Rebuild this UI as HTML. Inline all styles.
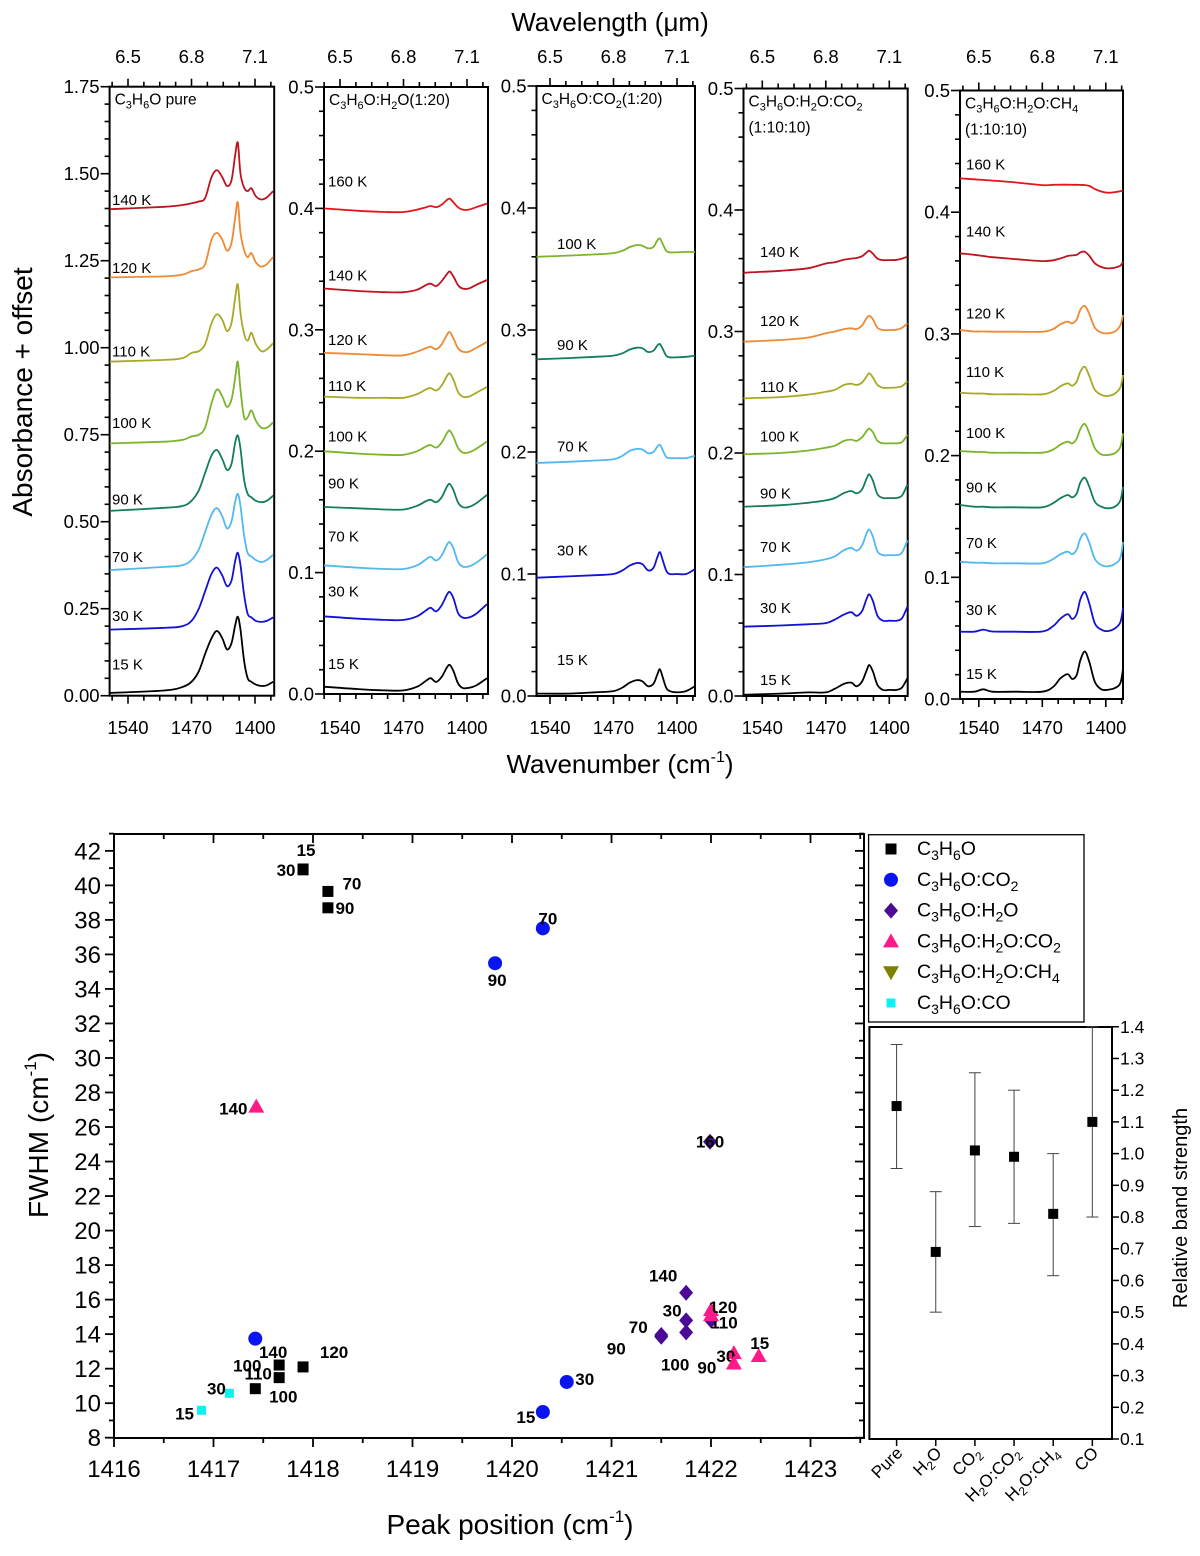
<!DOCTYPE html>
<html><head><meta charset="utf-8"><style>
html,body{margin:0;padding:0;background:#fff}
svg{display:block;font-family:"Liberation Sans",Arial,sans-serif}
</style></head><body>
<svg id="fig" width="1200" height="1556" viewBox="0 0 1200 1556" xmlns="http://www.w3.org/2000/svg"></svg>
<script>
// ===== Spectra data (absorbance + offset) =====
const temps1 = ["15 K","30 K","70 K","90 K","100 K","110 K","120 K","140 K"];
const grid1 = [1560,1500,1480,1470,1462,1455,1448,1442,1436,1431,1426,1422,1419,1416,1412,1408,1404,1399,1393,1387,1380];
const p1_15  = [0.008,0.015,0.025,0.04,0.07,0.12,0.165,0.186,0.165,0.133,0.15,0.2,0.227,0.19,0.1,0.05,0.04,0.032,0.028,0.03,0.04];
const p1_30  = [0.19,0.195,0.2,0.215,0.25,0.3,0.35,0.368,0.345,0.315,0.33,0.385,0.411,0.375,0.29,0.235,0.225,0.215,0.212,0.215,0.225];
const p1_70  = [0.361,0.37,0.375,0.39,0.42,0.47,0.52,0.539,0.515,0.481,0.5,0.555,0.58,0.545,0.46,0.41,0.4,0.39,0.384,0.39,0.405];
const p1_90  = [0.531,0.54,0.545,0.56,0.59,0.64,0.69,0.706,0.68,0.649,0.665,0.725,0.748,0.71,0.62,0.58,0.57,0.56,0.556,0.56,0.575];
const p1_100 = [0.725,0.73,0.735,0.745,0.75,0.77,0.84,0.88,0.86,0.83,0.85,0.91,0.96,0.88,0.8,0.8,0.82,0.79,0.77,0.77,0.785];
const p1_110 = [0.96,0.965,0.97,0.985,0.99,1.01,1.07,1.096,1.08,1.048,1.07,1.14,1.182,1.1,1.04,1.02,1.043,1.01,0.99,0.995,1.013];
const p1_120 = [1.202,1.205,1.21,1.22,1.225,1.24,1.31,1.33,1.31,1.279,1.3,1.37,1.418,1.33,1.28,1.26,1.272,1.245,1.233,1.24,1.261];
const p1_140 = [1.398,1.405,1.41,1.415,1.42,1.43,1.49,1.51,1.49,1.465,1.48,1.55,1.589,1.5,1.46,1.45,1.458,1.435,1.426,1.432,1.45];
const lab1 = [0.091,0.23,0.4,0.565,0.785,0.99,1.23,1.426];

const temps2 = ["15 K","30 K","70 K","90 K","100 K","110 K","120 K","140 K","160 K"];
const grid2 = [1558,1520,1490,1470,1455,1445,1440,1434,1428,1422,1419,1415,1410,1405,1398,1390,1378];
const p2_15  = [0.006,0.004,0.003,0.003,0.006,0.011,0.013,0.010,0.014,0.022,0.024,0.019,0.009,0.005,0.005,0.007,0.013];
const p2_30  = [0.064,0.062,0.061,0.061,0.064,0.069,0.071,0.068,0.073,0.082,0.084,0.079,0.067,0.063,0.063,0.066,0.074];
const p2_70  = [0.106,0.104,0.103,0.103,0.106,0.111,0.113,0.110,0.114,0.123,0.125,0.120,0.109,0.105,0.105,0.108,0.115];
const p2_90  = [0.154,0.153,0.152,0.152,0.155,0.159,0.160,0.158,0.162,0.171,0.173,0.168,0.158,0.154,0.154,0.157,0.164];
const p2_100 = [0.200,0.198,0.197,0.197,0.200,0.204,0.205,0.203,0.207,0.215,0.217,0.212,0.203,0.199,0.199,0.202,0.208];
const p2_110 = [0.245,0.244,0.244,0.244,0.247,0.251,0.252,0.250,0.254,0.262,0.264,0.259,0.249,0.245,0.245,0.248,0.253];
const p2_120 = [0.281,0.280,0.279,0.279,0.282,0.285,0.286,0.284,0.288,0.296,0.298,0.293,0.285,0.282,0.282,0.285,0.290];
const p2_140 = [0.334,0.332,0.331,0.331,0.333,0.337,0.338,0.336,0.340,0.346,0.348,0.344,0.337,0.334,0.334,0.337,0.341];
const p2_160 = [0.400,0.398,0.397,0.397,0.399,0.401,0.402,0.401,0.403,0.407,0.408,0.405,0.401,0.399,0.399,0.401,0.404];
const lab2 = [0.025,0.085,0.13,0.174,0.2125,0.254,0.292,0.345,0.4225];

const temps3 = ["15 K","30 K","70 K","90 K","100 K"];
const grid3 = [1555,1520,1490,1470,1460,1452,1444,1438,1432,1426,1422,1419,1416,1412,1408,1400,1390,1380];
const p3_15  = [0.002,0.002,0.003,0.004,0.007,0.011,0.013,0.012,0.008,0.01,0.017,0.022,0.016,0.007,0.004,0.003,0.004,0.008];
const p3_30  = [0.097,0.098,0.099,0.100,0.103,0.107,0.109,0.108,0.103,0.105,0.113,0.118,0.112,0.103,0.100,0.100,0.100,0.104];
const p3_70  = [0.191,0.192,0.193,0.194,0.197,0.201,0.2025,0.202,0.199,0.200,0.204,0.206,0.202,0.196,0.195,0.195,0.195,0.197];
const p3_90  = [0.276,0.277,0.278,0.279,0.281,0.284,0.2855,0.285,0.282,0.283,0.287,0.2885,0.285,0.279,0.2776,0.2776,0.278,0.279];
const p3_100 = [0.360,0.361,0.362,0.363,0.365,0.368,0.3697,0.369,0.367,0.368,0.373,0.375,0.371,0.365,0.3637,0.3637,0.364,0.364];
const lab3 = [0.030,0.1197,0.205,0.288,0.371];

const temps4 = ["15 K","30 K","70 K","90 K","100 K","110 K","120 K","140 K"];
const grid4 = [1561,1520,1490,1470,1460,1450,1442,1436,1430,1425,1422,1418,1413,1407,1400,1392,1386,1380];
const p4_15  = [0.001,0.002,0.003,0.003,0.006,0.010,0.011,0.008,0.012,0.021,0.0255,0.020,0.009,0.005,0.005,0.005,0.007,0.0146];
const p4_30  = [0.057,0.058,0.059,0.060,0.063,0.067,0.069,0.066,0.070,0.080,0.0837,0.078,0.066,0.062,0.062,0.062,0.064,0.0735];
const p4_70  = [0.106,0.108,0.110,0.1125,0.115,0.120,0.122,0.1196,0.124,0.134,0.137,0.131,0.119,0.116,0.116,0.116,0.118,0.128];
const p4_90  = [0.1558,0.157,0.159,0.161,0.163,0.167,0.1687,0.1668,0.170,0.179,0.1825,0.177,0.166,0.163,0.163,0.163,0.165,0.174];
const p4_100 = [0.199,0.200,0.202,0.2044,0.206,0.210,0.211,0.210,0.213,0.218,0.220,0.217,0.210,0.208,0.208,0.208,0.209,0.2148];
const p4_110 = [0.245,0.246,0.248,0.2504,0.252,0.256,0.257,0.256,0.258,0.263,0.2656,0.262,0.256,0.2537,0.2537,0.254,0.255,0.259];
const p4_120 = [0.2916,0.293,0.295,0.2985,0.300,0.302,0.3026,0.302,0.305,0.311,0.3128,0.310,0.303,0.3012,0.3012,0.3015,0.303,0.3067];
const p4_140 = [0.3484,0.350,0.352,0.356,0.357,0.359,0.360,0.3605,0.362,0.365,0.3665,0.364,0.360,0.3588,0.3588,0.359,0.360,0.3616];
const lab4 = [0.0137,0.0727,0.123,0.167,0.214,0.2546,0.309,0.366];

const temps5 = ["15 K","30 K","70 K","90 K","100 K","110 K","120 K","140 K","160 K"];
const grid5 = [1561,1545,1535,1525,1500,1470,1458,1450,1442,1437,1432,1428,1423,1418,1412,1405,1398,1390,1384,1380];
const p5_15  = [0.006,0.006,0.008,0.006,0.006,0.006,0.010,0.017,0.0205,0.0164,0.020,0.032,0.039,0.030,0.014,0.008,0.0076,0.009,0.013,0.0246];
const p5_30  = [0.0553,0.0553,0.057,0.0555,0.0553,0.0555,0.060,0.066,0.0698,0.0657,0.070,0.082,0.088,0.078,0.062,0.057,0.0558,0.058,0.063,0.0745];
const p5_70  = [0.1128,0.112,0.112,0.1115,0.1115,0.1115,0.115,0.119,0.121,0.119,0.123,0.132,0.136,0.128,0.115,0.110,0.109,0.111,0.116,0.129];
const p5_90  = [0.1594,0.158,0.158,0.1575,0.1575,0.1575,0.161,0.165,0.1676,0.1657,0.169,0.178,0.1818,0.174,0.162,0.158,0.1567,0.158,0.163,0.1744];
const p5_100 = [0.2038,0.203,0.203,0.2024,0.2024,0.2024,0.205,0.209,0.2114,0.21,0.214,0.222,0.226,0.218,0.206,0.201,0.2005,0.202,0.207,0.2183];
const p5_110 = [0.2517,0.251,0.251,0.2504,0.2504,0.2504,0.253,0.257,0.2594,0.2574,0.261,0.269,0.273,0.265,0.254,0.250,0.249,0.251,0.256,0.2662];
const p5_120 = [0.3032,0.302,0.302,0.3018,0.3018,0.3018,0.304,0.308,0.31,0.3087,0.312,0.320,0.323,0.316,0.305,0.301,0.3005,0.302,0.307,0.3155];
const p5_140 = [0.3662,0.365,0.364,0.363,0.3615,0.3598,0.3605,0.362,0.364,0.3645,0.365,0.367,0.3675,0.364,0.358,0.355,0.3538,0.3545,0.356,0.3593];
const p5_160 = [0.4278,0.427,0.4265,0.426,0.4245,0.4223,0.4225,0.4226,0.4226,0.4225,0.4225,0.4224,0.4223,0.4215,0.419,0.417,0.416,0.4165,0.4172,0.418];
const lab5 = [0.0211,0.0737,0.1284,0.174,0.219,0.269,0.317,0.3845,0.4396];

const wnTicks = ["1540","1470","1400"];
const wlTicks = ["6.5","6.8","7.1"];
const yTicks1 = ["0.00","0.25","0.50","0.75","1.00","1.25","1.50","1.75"];
const yTicksB = ["0.0","0.1","0.2","0.3","0.4","0.5"];

// ===== Scatter data =====
const sqX = [1417.90,1417.90,1418.15,1418.15,1417.42,1417.66,1417.90,1417.66];
const sqY = [40.95,40.90,39.65,38.70,10.84,11.48,12.10,12.21];
const sqL = ["15","30","70","90","100","110","120","140"];
const ciX = [1420.31,1420.55,1420.31,1419.83,1417.42];
const ciY = [9.49,11.23,37.51,35.49,13.74];
const ciL = ["15","30","70","90","100"];
const diX = [1421.99,1421.75,1421.50,1421.50,1421.75,1421.75,1422.00];
const diY = [25.15,16.40,13.95,13.85,14.10,14.80,14.80];
const diL = ["160","140","70","90","100","30","110"];
const trX = [1417.43,1422.00,1422.00,1422.23,1422.23,1422.48];
const trY = [27.18,15.40,15.10,12.90,12.30,12.73];
const trL = ["140","120","","30","90","15"];
const cyX = [1416.88,1417.16];
const cyY = [9.59,10.57];
const cyL = ["15","30"];
const xTicksS = ["1416","1417","1418","1419","1420","1421","1422","1423"];

// ===== Inset data =====
const cats = ["Pure","H2O","CO2","H2O:CO2","H2O:CH4","CO"];
const strength = [1.15,0.69,1.01,0.99,0.81,1.10];
const errLo = [0.953,0.50,0.77,0.78,0.615,0.80];
const errHi = [1.344,0.88,1.255,1.20,1.00,1.40];
const yTicksI = ["0.1","0.2","0.3","0.4","0.5","0.6","0.7","0.8","0.9","1.0","1.1","1.2","1.3","1.4"];

// ===== Rendering =====
const NS="http://www.w3.org/2000/svg";
const svg=document.getElementById('fig');
function mk(tag,attrs,parent){const e=document.createElementNS(NS,tag);for(const k in attrs)e.setAttribute(k,attrs[k]);(parent||svg).appendChild(e);return e;}
function txt(s,attrs,parent){const t=mk('text',attrs,parent);t.textContent=s;return t;}
function spline(pts){let d=`M${pts[0][0].toFixed(1)},${pts[0][1].toFixed(1)}`;
 for(let i=0;i<pts.length-1;i++){const p0=pts[Math.max(0,i-1)],p1=pts[i],p2=pts[i+1],p3=pts[Math.min(pts.length-1,i+2)];
  const c1=[p1[0]+(p2[0]-p0[0])/6,p1[1]+(p2[1]-p0[1])/6],c2=[p2[0]-(p3[0]-p1[0])/6,p2[1]-(p3[1]-p1[1])/6];
  d+=`C${c1[0].toFixed(1)},${c1[1].toFixed(1)} ${c2[0].toFixed(1)},${c2[1].toFixed(1)} ${p2[0].toFixed(1)},${p2[1].toFixed(1)}`;}
 return d;}
const colors={"15 K":"#000000","30 K":"#1212d6","70 K":"#52b8ee","90 K":"#137e58","100 K":"#7cb42c","110 K":"#a7aa26","120 K":"#ee8a34","140 K":"#bd1420","160 K":"#e4141c"};

const sub=(n)=>`<tspan font-size='11' dy='4'>${n}</tspan><tspan dy='-4'>`;
const panels=[
 {left:109.6,right:274.2,y0:695.7,ppu:348,ymax:1.75,x1540:128,title:["C"+sub(3)+"H</tspan>"+sub(6)+"O pure</tspan>"],grid:grid1,series:[p1_15,p1_30,p1_70,p1_90,p1_100,p1_110,p1_120,p1_140],temps:temps1,labs:lab1,ylab:yTicks1,ystep:0.25,minor:0.05,labx:112},
 {left:324,right:488,y0:694,ppu:1214,ymax:0.5,x1540:340,title:["C"+sub(3)+"H</tspan>"+sub(6)+"O:H</tspan>"+sub(2)+"O(1:20)</tspan>"],grid:grid2,series:[p2_15,p2_30,p2_70,p2_90,p2_100,p2_110,p2_120,p2_140,p2_160],temps:temps2,labs:lab2,ylab:yTicksB,ystep:0.1,minor:0.02,labx:328},
 {left:536.5,right:695,y0:696,ppu:1220,ymax:0.5,x1540:550,title:["C"+sub(3)+"H</tspan>"+sub(6)+"O:CO</tspan>"+sub(2)+"(1:20)</tspan>"],grid:grid3,series:[p3_15,p3_30,p3_70,p3_90,p3_100],temps:temps3,labs:lab3,ylab:yTicksB,ystep:0.1,minor:0.02,labx:557},
 {left:743.5,right:907.7,y0:696,ppu:1215,ymax:0.5,x1540:762.3,title:["C"+sub(3)+"H</tspan>"+sub(6)+"O:H</tspan>"+sub(2)+"O:CO</tspan>"+sub(2)+"</tspan>","(1:10:10)"],grid:grid4,series:[p4_15,p4_30,p4_70,p4_90,p4_100,p4_110,p4_120,p4_140],temps:temps4,labs:lab4,ylab:yTicksB,ystep:0.1,minor:0.02,labx:760},
 {left:960,right:1123,y0:699,ppu:1217,ymax:0.5,x1540:978.8,title:["C"+sub(3)+"H</tspan>"+sub(6)+"O:H</tspan>"+sub(2)+"O:CH</tspan>"+sub(4)+"</tspan>","(1:10:10)"],grid:grid5,series:[p5_15,p5_30,p5_70,p5_90,p5_100,p5_110,p5_120,p5_140,p5_160],temps:temps5,labs:lab5,ylab:yTicksB,ystep:0.1,minor:0.02,labx:966}
];
const ppw=127/140;
panels.forEach((P,pi)=>{
 const g=mk('g',{});
 
 
 const X=w=>P.x1540+(1540-w)*ppw;
 const Y=v=>P.y0-v*P.ppu;
 const top=Y(P.ymax);
 for(let w=1557.5;w>=1378;w-=17.5){const x=X(w);if(x<P.left-0.5||x>P.right+0.5)continue;
  const major=Math.abs(((1540-w)%70+70)%70)<0.01;const L=major?8:5;
  mk('line',{x1:x,y1:P.y0,x2:x,y2:P.y0+L,stroke:'#000','stroke-width':1.6},g);
  mk('line',{x1:x,y1:top,x2:x,y2:top-L,stroke:'#000','stroke-width':1.6},g);}
 wnTicks.forEach(s=>{const t=txt(s,{x:X(+s),y:734,'font-size':18.5,'text-anchor':'middle'},g);
  });
 wlTicks.forEach((s,i)=>{const t=txt(s,{x:X(+wnTicks[i]),y:63,'font-size':18.5,'text-anchor':'middle'},g);
  });
 const n=Math.round(P.ymax/P.minor);
 for(let i=0;i<=n;i++){const v=i*P.minor;const y=Y(v);const major=Math.abs((v/P.ystep)-Math.round(v/P.ystep))<1e-6;
  mk('line',{x1:P.left,y1:y,x2:P.left-(major?9:5),y2:y,stroke:'#000','stroke-width':1.6},g);}
 P.ylab.forEach(s=>{const t=txt(s,{x:P.left-10,y:Y(+s)+6.5,'font-size':18.5,'text-anchor':'end'},g);
  });
 const fr=mk('rect',{x:P.left,y:top,width:P.right-P.left,height:P.y0-top,fill:'none',stroke:'#000','stroke-width':2},g);
 
 P.title.forEach((h,i)=>{const t=mk('text',{x:P.left+5,y:top+18+i*26,'font-size':15.5},g);t.innerHTML=h;
  });
 P.series.forEach((arr,si)=>{const pts=arr.map((v,k)=>[Math.max(P.left,Math.min(P.right,X(P.grid[k]))),Y(v)]);
  const p=mk('path',{d:spline(pts),fill:'none',stroke:colors[P.temps[si]],'stroke-width':1.8},g);
  
  
  const t=txt(P.temps[si],{x:P.labx,y:Y(P.labs[si])+5.5,'font-size':15},g);
  });
});
let t;
t=txt('Wavelength (\u03bcm)',{x:610,y:31,'font-size':26,'text-anchor':'middle'});

t=mk('text',{x:620,y:773,'font-size':26,'text-anchor':'middle'});t.innerHTML="Wavenumber (cm<tspan font-size='16' dy='-11'>-1</tspan><tspan dy='11'>)</tspan>";

t=txt('Absorbance + offset',{x:0,y:0,'font-size':28,'text-anchor':'middle',transform:'translate(32,392) rotate(-90)'});


// ===== Scatter =====
const S={l:114,r:864,t:834,b:1438};
const sx=v=>S.l+(v-1416)*99.5, sy=v=>1437.7-(v-8)*17.26;
const sg=mk('g',{});


for(let v=8;v<=43;v+=1){const y=sy(v);const major=v%2===0;const L=major?9:5;
 mk('line',{x1:S.l,y1:y,x2:S.l-L,y2:y,stroke:'#000','stroke-width':1.8},sg);
 mk('line',{x1:S.r,y1:y,x2:S.r-L,y2:y,stroke:'#000','stroke-width':1.8},sg);
 if(major){const tl=txt(String(v),{x:S.l-13,y:y+8.5,'font-size':24,'text-anchor':'end'},sg);
  }}
for(let v=1416;v<=1423.5;v+=0.5){const x=sx(v);const major=Number.isInteger(v);const L=major?9:5;
 mk('line',{x1:x,y1:S.b,x2:x,y2:S.b+L,stroke:'#000','stroke-width':1.8},sg);
 mk('line',{x1:x,y1:S.t,x2:x,y2:S.t+L,stroke:'#000','stroke-width':1.8},sg);}
xTicksS.forEach(s=>{const tl=txt(s,{x:sx(+s),y:1477,'font-size':24,'text-anchor':'middle'},sg);
 });
mk('rect',{x:S.l,y:S.t,width:S.r-S.l,height:S.b-S.t,fill:'none',stroke:'#000','stroke-width':2},sg);
t=mk('text',{x:510,y:1534,'font-size':28,'text-anchor':'middle'},sg);t.innerHTML="Peak position (cm<tspan font-size='17' dy='-12'>-1</tspan><tspan dy='12'>)</tspan>";

t=mk('text',{x:0,y:0,'font-size':28,'text-anchor':'middle',transform:'translate(48,1135) rotate(-90)'},sg);t.innerHTML="FWHM (cm<tspan font-size='17' dy='-12'>-1</tspan><tspan dy='12'>)</tspan>";


function marker(type,x,y,parent){
 if(type==='sq')return mk('rect',{x:x-5.5,y:y-5.5,width:11,height:11,fill:'#000'},parent);
 if(type==='ci')return mk('circle',{cx:x,cy:y,r:7,fill:'#0a14f0'},parent);
 if(type==='di')return mk('polygon',{points:`${x},${y-8} ${x+7},${y} ${x},${y+8} ${x-7},${y}`,fill:'#4a0a96'},parent);
 if(type==='tr')return mk('polygon',{points:`${x},${y-8} ${x+8},${y+6} ${x-8},${y+6}`,fill:'#ff1a8a'},parent);
 if(type==='dt')return mk('polygon',{points:`${x},${y+8} ${x+8},${y-6} ${x-8},${y-6}`,fill:'#7f7f00'},parent);
 if(type==='cy')return mk('rect',{x:x-4.5,y:y-4.5,width:9,height:9,fill:'#10f0f0'},parent);}
const labOff={sq:[[3,-19],[-17,0],[24,-8],[17,0],[28,8],[-21,-4],[31,-15],[-6,-13]],
 ci:[[-17,5],[18,-3],[5,-10],[2,17],[-8,27]],
 di:[[0,0],[-23,-17],[-23,-8],[-45,12],[-11,32],[-14,-10],[13,2]],
 tr:[[-23,2],[12,-3],[0,0],[-8,3],[-27,4],[1,-13]],
 cy:[[-17,3],[-13,-5]]};
const sets=[['sq',sqX,sqY,sqL,'c3h6o'],['ci',ciX,ciY,ciL,'c3h6o-co2'],['di',diX,diY,diL,'c3h6o-h2o'],['tr',trX,trY,trL,'c3h6o-h2o-co2'],['cy',cyX,cyY,cyL,'c3h6o-co']];
sets.forEach(([ty,XS,YS,LS,nm])=>{XS.forEach((xv,i)=>{const x=sx(xv),y=sy(YS[i]);
 const m=marker(ty,x,y,sg);
 
 
 if(LS[i]){const o=labOff[ty][i];const tl=txt(LS[i],{x:x+o[0],y:y+o[1]+6,'font-size':17,'font-weight':'bold','text-anchor':'middle'},sg);
  }});});

// legend
const lg=mk('g',{});


mk('rect',{x:868.6,y:834.7,width:215.4,height:187.3,fill:'#fff',stroke:'#000','stroke-width':1.3},lg);
const ls=(n)=>`<tspan font-size='14' dy='5'>${n}</tspan><tspan dy='-5'>`;
const legItems=[['sq',"C"+ls(3)+"H</tspan>"+ls(6)+"O</tspan>"],
 ['ci',"C"+ls(3)+"H</tspan>"+ls(6)+"O:CO</tspan>"+ls(2)+"</tspan>"],
 ['di',"C"+ls(3)+"H</tspan>"+ls(6)+"O:H</tspan>"+ls(2)+"O</tspan>"],
 ['tr',"C"+ls(3)+"H</tspan>"+ls(6)+"O:H</tspan>"+ls(2)+"O:CO</tspan>"+ls(2)+"</tspan>"],
 ['dt',"C"+ls(3)+"H</tspan>"+ls(6)+"O:H</tspan>"+ls(2)+"O:CH</tspan>"+ls(4)+"</tspan>"],
 ['cy',"C"+ls(3)+"H</tspan>"+ls(6)+"O:CO</tspan>"]];
legItems.forEach(([ty,h],i)=>{const y=849+i*30.8;marker(ty,891,y,lg);
 const tl=mk('text',{x:917,y:y+6,'font-size':19.5},lg);tl.innerHTML=h;
 });

// inset
const I={l:869.4,r:1112,t:1027,b:1439};
const iy=v=>I.b-(v-0.1)*317.1, ix=i=>896.6+i*39.15;
const ig=mk('g',{});


mk('rect',{x:I.l,y:I.t,width:I.r-I.l,height:I.b-I.t,fill:'#fff',stroke:'#000','stroke-width':2},ig);
yTicksI.forEach(s=>{const y=iy(+s);mk('line',{x1:I.r,y1:y,x2:I.r+7,y2:y,stroke:'#000','stroke-width':1.5},ig);
 const tl=txt(s,{x:I.r+8,y:y+6,'font-size':17.5},ig);});
const cs=(n)=>`<tspan font-size='12' dy='4'>${n}</tspan><tspan dy='-4'>`;
const catHtml=["Pure","H"+cs(2)+"O</tspan>","CO"+cs(2)+"</tspan>",
 "H"+cs(2)+"O:CO</tspan>"+cs(2)+"</tspan>",
 "H"+cs(2)+"O:CH</tspan>"+cs(4)+"</tspan>","CO"];
cats.forEach((c,i)=>{const x=ix(i);
 mk('line',{x1:x,y1:I.b,x2:x,y2:I.b+7,stroke:'#000','stroke-width':1.5},ig);
 const eb=mk('g',{},ig);
 
 
 mk('line',{x1:x,y1:iy(errLo[i]),x2:x,y2:iy(Math.min(errHi[i],1.4)),stroke:'#444','stroke-width':1},eb);
 mk('line',{x1:x-6,y1:iy(errLo[i]),x2:x+6,y2:iy(errLo[i]),stroke:'#444','stroke-width':1},eb);
 mk('line',{x1:x-6,y1:iy(errHi[i]),x2:x+6,y2:iy(errHi[i]),stroke:'#444','stroke-width':1},eb);
 const m=mk('rect',{x:x-5,y:iy(strength[i])-5,width:10,height:10,fill:'#000'},ig);
 
 
 const tl=mk('text',{x:0,y:0,'font-size':17,'text-anchor':'end',transform:`translate(${x+7},${I.b+15}) rotate(-45)`},ig);
 tl.innerHTML=catHtml[i];
 });
t=txt('Relative band strength',{x:0,y:0,'font-size':20,'text-anchor':'middle',transform:'translate(1187,1208) rotate(-90)'},ig);

</script>
</body></html>
